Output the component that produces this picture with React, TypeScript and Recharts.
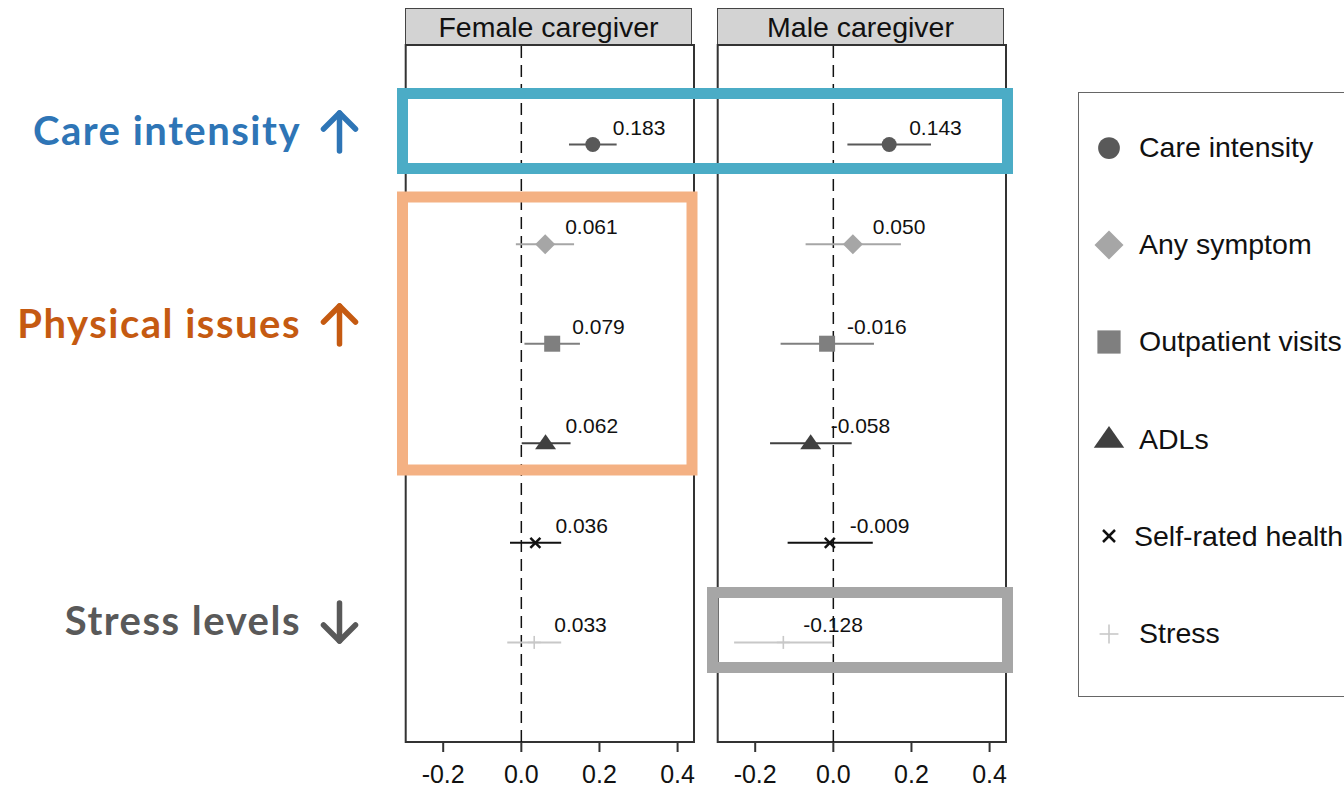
import { ScatterChart, Scatter, XAxis, YAxis, ErrorBar, ReferenceLine, ReferenceArea } from 'recharts'

// outcomes, top to bottom
const outcomes = ['Care intensity', 'Any symptom', 'Outpatient visits', 'ADLs', 'Self-rated health', 'Stress']
const rows = [1, 2, 3, 4, 5, 6]

// estimates + 95% CI
const femaleEst = [0.183, 0.061, 0.079, 0.062, 0.036, 0.033]
const femaleLow = [0.122, -0.014, 0.008, 0.001, -0.029, -0.036]
const femaleHigh = [0.244, 0.135, 0.15, 0.126, 0.102, 0.102]

const maleEst = [0.143, 0.05, -0.016, -0.058, -0.009, -0.128]
const maleLow = [0.036, -0.071, -0.135, -0.162, -0.117, -0.254]
const maleHigh = [0.25, 0.173, 0.104, 0.047, 0.101, -0.004]

const xTicks = [-0.2, 0, 0.2, 0.4]
const panelTitles = ['Female caregiver', 'Male caregiver']

const kinds = ['circle', 'diamond', 'square', 'triangle', 'cross', 'plus']
const colors = ['#595959', '#a6a6a6', '#7f7f7f', '#404040', '#111111', '#c8c8c8']

// side notes
const notes = ['Care intensity', 'Physical issues', 'Stress levels']
const noteColors = ['#2e75b6', '#c55a11', '#595959']
const noteUp = [true, true, false]

const X_DOMAIN: [number, number] = [-0.296, 0.442]
const FONT = '"Liberation Sans", Arial, sans-serif'

function marker(kind: string, cx: number, cy: number, color: string, s = 1) {
  switch (kind) {
    case 'circle':
      return <circle cx={cx} cy={cy} r={7.5 * s} fill={color} />
    case 'diamond': {
      const h = 10 * s
      return <polygon points={`${cx},${cy - h} ${cx + h},${cy} ${cx},${cy + h} ${cx - h},${cy}`} fill={color} />
    }
    case 'square': {
      const h = 8 * s
      return <rect x={cx - h} y={cy - h} width={2 * h} height={2 * h} fill={color} />
    }
    case 'triangle': {
      const w = 10.5 * s
      const h = 15 * s
      return <polygon points={`${cx},${cy - h * 0.6} ${cx + w},${cy + h * 0.4} ${cx - w},${cy + h * 0.4}`} fill={color} />
    }
    case 'cross': {
      const h = 5 * s
      return (
        <g stroke={color} strokeWidth={2.5}>
          <line x1={cx - h} y1={cy - h} x2={cx + h} y2={cy + h} />
          <line x1={cx - h} y1={cy + h} x2={cx + h} y2={cy - h} />
        </g>
      )
    }
    default: {
      const h = 6.5 * s
      return (
        <g stroke={color} strokeWidth={1.6}>
          <line x1={cx - h} y1={cy} x2={cx + h} y2={cy} />
          <line x1={cx} y1={cy - h} x2={cx} y2={cy + h} />
        </g>
      )
    }
  }
}

function Panel({ title, est, low, high, left }: { title: string; est: number[]; low: number[]; high: number[]; left: number }) {
  return (
    <div style={{ position: 'absolute', left, top: 0, width: 300, height: 789 }}>
      <div
        style={{
          position: 'absolute', left: 5, top: 8, width: 285, height: 35,
          background: '#d3d3d3', border: '1.5px solid #444', fontFamily: FONT,
          fontSize: 28.5, lineHeight: '37px', textAlign: 'center', color: '#111',
        }}
      >
        {title}
      </div>
      <ScatterChart width={300} height={789} margin={{ top: 45, right: 6, bottom: 0, left: 5.7 }}>
        <XAxis
          type="number" dataKey="x" domain={X_DOMAIN} allowDataOverflow ticks={xTicks}
          tickFormatter={(v: number) => v.toFixed(1)} height={47} axisLine={false}
          tickSize={10} tickMargin={13} tickLine={{ stroke: '#333', strokeWidth: 2 }}
          tick={{ fill: '#111', fontSize: 25, fontFamily: FONT }} interval={0}
        />
        <YAxis type="number" dataKey="y" domain={[0, 7]} reversed hide />
        <ReferenceArea x1={X_DOMAIN[0]} x2={X_DOMAIN[1]} y1={0} y2={7} fill="none" fillOpacity={0} stroke="#333" strokeWidth={2} />
        <ReferenceLine x={0} stroke="#111" strokeWidth={1.5} strokeDasharray="12 7" />
        {outcomes.map((name, i) => (
          <Scatter
            key={name}
            name={name}
            data={[{ x: est[i], y: rows[i], err: [est[i] - low[i], high[i] - est[i]] }]}
            isAnimationActive={false}
            shape={(p: any) => (
              <g>
                {marker(kinds[i], p.cx, p.cy, colors[i])}
                <text x={p.cx + 20} y={p.cy - 10} fontSize={21} fontFamily={FONT} fill="#111">
                  {p.payload.x.toFixed(3)}
                </text>
              </g>
            )}
          >
            <ErrorBar dataKey="err" direction="x" width={0} stroke={colors[i]} strokeWidth={2} />
          </Scatter>
        ))}
      </ScatterChart>
    </div>
  )
}

function Arrow({ cx, cy, up, color }: { cx: number; cy: number; up: boolean; color: string }) {
  const d = up ? -1 : 1
  const tip = cy + d * 19
  return (
    <g stroke={color} strokeWidth={5.5} strokeLinecap="round" strokeLinejoin="round" fill="none">
      <line x1={cx} y1={cy - d * 19} x2={cx} y2={tip} />
      <polyline points={`${cx - 16},${tip - d * 16} ${cx},${tip} ${cx + 16},${tip - d * 16}`} />
    </g>
  )
}

export default function App() {
  const noteBase = [145, 338, 635]
  return (
    <div style={{ position: 'absolute', left: 0, top: 0, width: 1344, height: 789, overflow: 'hidden', background: '#fff' }}>
      <Panel title={panelTitles[0]} est={femaleEst} low={femaleLow} high={femaleHigh} left={400} />
      <Panel title={panelTitles[1]} est={maleEst} low={maleLow} high={maleHigh} left={712} />

      {/* legend */}
      <div
        style={{
          position: 'absolute', left: 1078, top: 92, width: 320, height: 605,
          border: '1.5px solid #666', boxSizing: 'border-box', paddingTop: 6,
        }}
      >
        {outcomes.map((name, i) => (
          <div key={name} style={{ height: 97.2, display: 'flex', alignItems: 'center' }}>
            <svg width={kinds[i] === 'cross' ? 55 : 60} height={40} style={{ flex: 'none' }}>
              {marker(kinds[i], 30, 20, colors[i], kinds[i] === 'cross' ? 1.2 : 1.45)}
            </svg>
            <span style={{ fontFamily: FONT, fontSize: 28.5, color: '#111', whiteSpace: 'nowrap' }}>{name}</span>
          </div>
        ))}
      </div>

      {/* highlight boxes and side notes */}
      <svg width={1344} height={789} style={{ position: 'absolute', left: 0, top: 0, pointerEvents: 'none' }}>
        <rect x={402.5} y={93.5} width={605} height={75} fill="none" stroke="#4bacc6" strokeWidth={11} />
        <rect x={402.5} y={197} width={289.5} height={273} fill="none" stroke="#f4b183" strokeWidth={11} />
        <rect x={712.5} y={592.5} width={295} height={75} fill="none" stroke="#a6a6a6" strokeWidth={11} />
        {notes.map((t, i) => (
          <g key={t}>
            <text
              x={301} y={noteBase[i]} fill={noteColors[i]} textAnchor="end"
              fontFamily="Lato, sans-serif" fontWeight={700} fontSize={40} letterSpacing={1.5}
            >
              {t}
            </text>
            <Arrow cx={339.5} cy={noteBase[i] - 13} up={noteUp[i]} color={noteColors[i]} />
          </g>
        ))}
      </svg>
    </div>
  )
}
